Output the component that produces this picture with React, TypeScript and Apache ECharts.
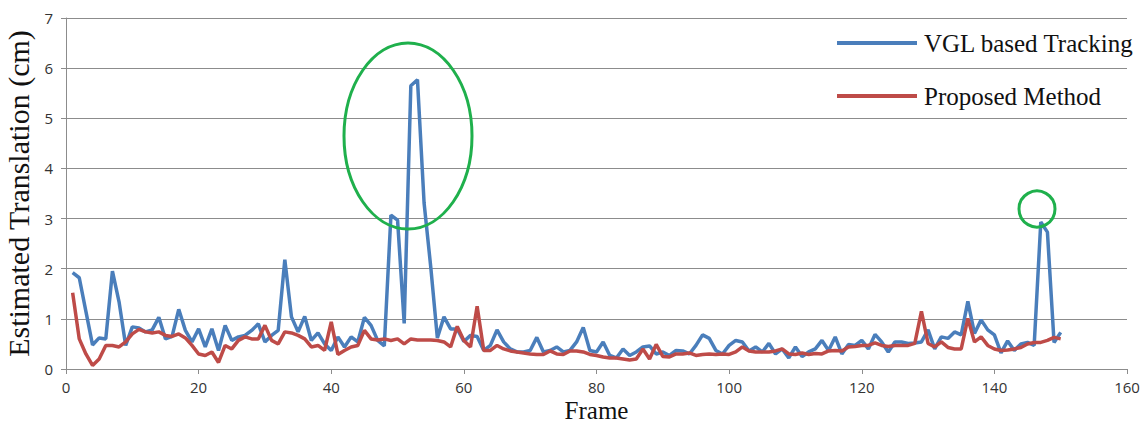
import React, { useEffect, useRef } from "react";
import * as echarts from "echarts";

const frames: number[] = Array.from({ length: 150 }, (_, i) => i + 1);

const vglTracking: number[] = [
  1.92, 1.82, 1.15, 0.48, 0.62, 0.6, 1.95, 1.34, 0.47, 0.84,
  0.82, 0.74, 0.78, 1.03, 0.6, 0.65, 1.19, 0.77, 0.54, 0.8,
  0.44, 0.8, 0.37, 0.87, 0.57, 0.64, 0.67, 0.77, 0.9, 0.54,
  0.67, 0.77, 2.18, 1.04, 0.74, 1.05, 0.57, 0.72, 0.5, 0.37,
  0.64, 0.44, 0.64, 0.54, 1.03, 0.87, 0.57, 0.46, 3.07, 2.97,
  0.91, 5.65, 5.77, 3.31, 2.04, 0.62, 1.04, 0.8, 0.8, 0.55,
  0.67, 0.65, 0.37, 0.47, 0.78, 0.54, 0.4, 0.34, 0.34, 0.37,
  0.63, 0.34, 0.37, 0.44, 0.34, 0.37, 0.54, 0.83, 0.37, 0.34,
  0.54, 0.27, 0.22, 0.4, 0.27, 0.34, 0.44, 0.46, 0.3, 0.34,
  0.27, 0.37, 0.36, 0.3, 0.47, 0.68, 0.61, 0.37, 0.3, 0.47,
  0.57, 0.54, 0.36, 0.44, 0.34, 0.51, 0.3, 0.4, 0.22, 0.44,
  0.25, 0.34, 0.4, 0.57, 0.37, 0.64, 0.3, 0.49, 0.47, 0.57,
  0.4, 0.69, 0.54, 0.34, 0.54, 0.54, 0.51, 0.52, 0.54, 0.78,
  0.4, 0.64, 0.61, 0.74, 0.68, 1.35, 0.71, 0.98, 0.78, 0.68,
  0.32, 0.56, 0.37, 0.5, 0.53, 0.47, 2.93, 2.73, 0.53, 0.73,
];

const proposedMethod: number[] = [
  1.52, 0.6, 0.3, 0.07, 0.2, 0.47, 0.47, 0.44, 0.54, 0.7,
  0.79, 0.74, 0.72, 0.74, 0.67, 0.65, 0.7, 0.62, 0.47, 0.3,
  0.27, 0.34, 0.13, 0.47, 0.4, 0.57, 0.64, 0.6, 0.6, 0.87,
  0.57, 0.5, 0.74, 0.72, 0.67, 0.6, 0.44, 0.47, 0.37, 0.94,
  0.29, 0.37, 0.44, 0.47, 0.77, 0.6, 0.58, 0.6, 0.57, 0.6,
  0.5, 0.6, 0.58, 0.58, 0.58, 0.57, 0.54, 0.44, 0.85, 0.57,
  0.44, 1.25, 0.37, 0.37, 0.47, 0.4, 0.36, 0.34, 0.32, 0.3,
  0.29, 0.29, 0.36, 0.3, 0.29, 0.36, 0.36, 0.34, 0.29, 0.27,
  0.24, 0.22, 0.22, 0.2, 0.18, 0.2, 0.4, 0.2, 0.49, 0.25,
  0.24, 0.3, 0.3, 0.32, 0.27, 0.29, 0.3, 0.29, 0.3, 0.29,
  0.34, 0.44, 0.36, 0.34, 0.34, 0.34, 0.36, 0.4, 0.3, 0.29,
  0.32, 0.29, 0.31, 0.3, 0.36, 0.37, 0.36, 0.44, 0.45, 0.47,
  0.47, 0.52, 0.47, 0.45, 0.47, 0.47, 0.47, 0.51, 1.15, 0.51,
  0.44, 0.54, 0.43, 0.4, 0.4, 1.01, 0.54, 0.64, 0.47, 0.4,
  0.37, 0.38, 0.4, 0.43, 0.5, 0.53, 0.53, 0.57, 0.63, 0.6,
];

const seriesNames: string[] = ["VGL based Tracking", "Proposed Method"];

export default function App() {
  const ref = useRef<HTMLDivElement>(null);

  useEffect(() => {
    if (!ref.current) return;
    const chart = echarts.init(ref.current, null, { renderer: "svg" });
    const axisGray = "#8c8c8c";
    chart.setOption({
      animation: false,
      backgroundColor: "#ffffff",
      grid: {
        left: 66,
        right: 14,
        top: 18,
        bottom: 54,
        containLabel: false,
        outerBoundsMode: "none",
      },
      legend: {
        orient: "vertical",
        left: 832,
        top: 24,
        itemWidth: 80,
        itemHeight: 4,
        itemGap: 25,
        icon: "rect",
        data: [
          { name: seriesNames[0], itemStyle: { color: "#4a7ebb" } },
          { name: seriesNames[1], itemStyle: { color: "#be4b48" } },
        ],
        textStyle: {
          fontFamily: "Liberation Serif",
          fontSize: 25,
          lineHeight: 28,
          color: "#111",
          padding: [0, 0, 0, 2],
        },
      },
      xAxis: {
        type: "value",
        min: 0,
        max: 160,
        interval: 20,
        name: "Frame",
        nameLocation: "middle",
        nameGap: 29,
        nameMoveOverlap: false,
        nameTextStyle: { fontFamily: "Liberation Serif", fontSize: 25, color: "#111" },
        axisLine: { show: true, lineStyle: { color: axisGray, width: 1 } },
        axisTick: { show: true, inside: false, length: 5, lineStyle: { color: axisGray } },
        axisLabel: {
          fontFamily: "Open Sans",
          fontSize: 15,
          color: "#333",
          margin: 10,
        },
        splitLine: { show: false },
      },
      yAxis: {
        type: "value",
        min: 0,
        max: 7,
        interval: 1,
        name: "Estimated Translation (cm)",
        nameLocation: "middle",
        nameGap: 30,
        nameTextStyle: { fontFamily: "Liberation Serif", fontSize: 30, color: "#111" },
        axisLine: { show: true, lineStyle: { color: axisGray, width: 1 } },
        axisTick: { show: true, inside: false, length: 5, lineStyle: { color: axisGray } },
        axisLabel: {
          fontFamily: "Open Sans",
          fontSize: 15,
          color: "#333",
          margin: 13,
        },
        splitLine: { show: true, lineStyle: { color: axisGray, width: 1 } },
      },
      series: [
        {
          name: seriesNames[0],
          type: "line",
          data: frames.map((f, i) => [f, vglTracking[i]]),
          showSymbol: false,
          lineStyle: { color: "#4a7ebb", width: 3.5 },
          itemStyle: { color: "#4a7ebb" },
          z: 2,
        },
        {
          name: seriesNames[1],
          type: "line",
          data: frames.map((f, i) => [f, proposedMethod[i]]),
          showSymbol: false,
          lineStyle: { color: "#be4b48", width: 3.5 },
          itemStyle: { color: "#be4b48" },
          z: 3,
        },
      ],
      graphic: [
        {
          type: "ellipse",
          shape: { cx: 408, cy: 136, rx: 64, ry: 93 },
          style: { fill: "none", stroke: "#1fb04c", lineWidth: 3 },
          z: 10,
        },
        {
          type: "circle",
          shape: { cx: 1037, cy: 209, r: 18 },
          style: { fill: "none", stroke: "#1fb04c", lineWidth: 3 },
          z: 10,
        },
      ],
    });
    return () => chart.dispose();
  }, []);

  return (
    <div
      ref={ref}
      style={{ position: "fixed", left: 0, top: 0, width: 1141, height: 423 }}
    />
  );
}
